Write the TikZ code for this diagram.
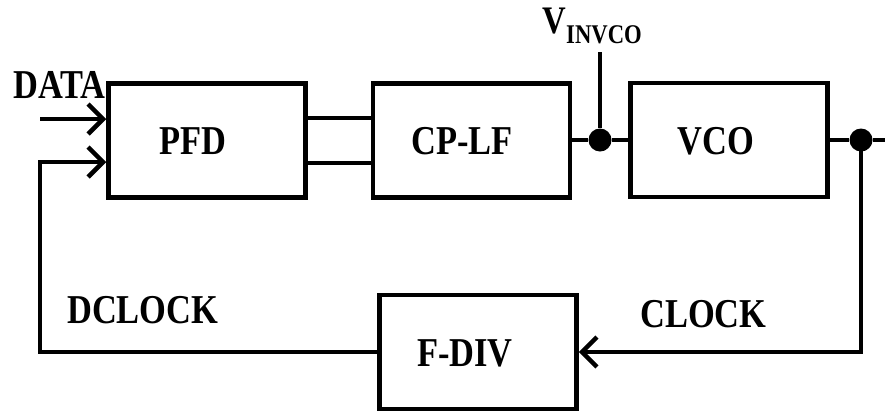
\documentclass[tikz,border=0pt]{standalone}
\usepackage{fontspec}
\setmainfont{Liberation Serif}
\usepackage{graphicx}
\usetikzlibrary{arrows.meta}
\newcommand{\sqz}[1]{\scalebox{0.84}[1]{\bfseries #1}}
\begin{document}
\begin{tikzpicture}[x=1pt,y=-1pt,
  blk/.style={draw,line width=4.5pt,inner sep=0pt,minimum width=197pt,minimum height=114pt},
  wire/.style={line width=4.5pt},
  arr/.style={line width=4.5pt,-{Straight Barb[length=15pt,width=30pt,line width=4.5pt]}},
  dotn/.style={circle,fill,inner sep=0pt,minimum size=23pt},
  lab/.style={inner sep=0pt,font=\fontsize{41}{44}\selectfont},
  blab/.style={inner sep=0pt,font=\fontsize{41}{44}\selectfont}]
\useasboundingbox (0,0) rectangle (885,413);
% blocks
\node[blk] (pfd) at (207,140.5) {};
\node[blk] (cplf) at (471.5,140.5) {};
\node[blk] (vco) at (729,140) {};
\node[blk] (fdiv) at (478,352) {};
\node[blab] (pfdt) at (193,141.5) {\sqz{PFD}};
\node[blab] (cplft) at (462,141.5) {\sqz{CP-LF}};
\node[blab] (vcot) at (716,141.5) {\sqz{VCO}};
\node[blab] (fdivt) at (465,353) {\sqz{F-DIV}};
% labels
\node[lab,anchor=base west] (data) at (13,98) {\sqz{DATA}};
\node[lab,anchor=base west] (dclk) at (67,323) {\sqz{DCLOCK}};
\node[lab,anchor=base west] (clk) at (640,327) {\sqz{CLOCK}};
\node[inner sep=0pt,anchor=base west,font=\fontsize{39}{40}\selectfont] (vin) at (542,33) {\sqz{V}};
\node[inner sep=0pt,anchor=base west,font=\fontsize{27}{30}\selectfont] (vsub) at (566,43) {\sqz{INVCO}};
% coordinates
\coordinate (din) at (40,119);
\coordinate (fbl) at (40,352);
\coordinate (fbt) at (40,162);
\coordinate (vtop) at (600,52);
\coordinate (outr) at (885,140);
\coordinate (cbr) at (861,352);
\node[dotn] (d1) at (600,140) {};
\node[dotn] (d2) at (861,140) {};
% connectors
\draw[arr] (din) -- (din -| pfd.west);
\draw[arr] (fdiv.west) -- (fbl) -- (fbt) -- (fbt -| pfd.west);
\draw[wire] (pfd.east |- 0,118) -- (cplf.west |- 0,118);
\draw[wire] (pfd.east |- 0,163) -- (cplf.west |- 0,163);
\draw[wire] (cplf.east |- d1) -- (d1) -- (vco.west |- d1);
\draw[wire] (d1) -- (vtop);
\draw[wire] (vco.east |- d2) -- (d2) -- (outr);
\draw[arr] (d2.center) -- (cbr) -- (fdiv.east |- cbr);
\end{tikzpicture}
\end{document}
